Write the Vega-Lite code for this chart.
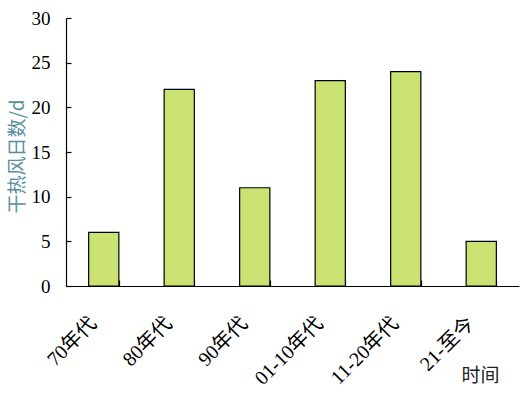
{
  "$schema": "https://vega.github.io/schema/vega-lite/v6.json",
  "width": 453,
  "height": 268,
  "autosize": {"type": "none"},
  "padding": {"left": 66, "top": 18, "right": 10, "bottom": 118},
  "background": "white",
  "config": {
    "view": {"stroke": null},
    "font": "Liberation Serif"
  },
  "data": {
    "values": [
      {"period": "70年代", "days": 6},
      {"period": "80年代", "days": 22},
      {"period": "90年代", "days": 11},
      {"period": "01-10年代", "days": 23},
      {"period": "11-20年代", "days": 24},
      {"period": "21-至今", "days": 5}
    ]
  },
  "mark": {"type": "bar", "fill": "#cae272", "stroke": "black", "strokeWidth": 1.2},
  "encoding": {
    "x": {
      "field": "period",
      "type": "nominal",
      "sort": null,
      "scale": {"paddingInner": 0.6, "paddingOuter": 0.3},
      "axis": {
        "title": "时间",
        "titleFont": "Noto Sans CJK SC",
        "titleFontSize": 19,
        "titleFontWeight": "normal",
        "titleColor": "#222",
        "titleX": 414,
        "titleY": 89,
        "titleAlign": "center",
        "titleBaseline": "middle",
        "labelAngle": -45,
        "labelAlign": "right",
        "labelBaseline": "top",
        "labelPadding": 33,
        "labelOffset": -18,
        "labelFont": "Liberation Serif, Noto Sans CJK SC",
        "labelFontSize": 20,
        "labelColor": "black",
        "tickBand": "extent",
        "tickSize": -6,
        "tickColor": "black",
        "domainColor": "black",
        "domainWidth": 1.2,
        "tickWidth": 1.2
      }
    },
    "y": {
      "field": "days",
      "type": "quantitative",
      "scale": {"domain": [0, 30]},
      "axis": {
        "title": "干热风日数/d",
        "titleFont": "Noto Sans CJK SC",
        "titleFontSize": 19,
        "titleFontWeight": "normal",
        "titleColor": "#5a8f9f",
        "titleX": -49,
        "titleY": 138,
        "titleAlign": "center",
        "titleBaseline": "middle",
        "values": [0, 5, 10, 15, 20, 25, 30],
        "labelFont": "Liberation Serif",
        "labelFontSize": 19,
        "labelColor": "black",
        "labelPadding": 21,
        "tickSize": -5,
        "tickColor": "black",
        "tickWidth": 1.2,
        "domainColor": "black",
        "domainWidth": 1.2,
        "grid": false
      }
    }
  }
}
